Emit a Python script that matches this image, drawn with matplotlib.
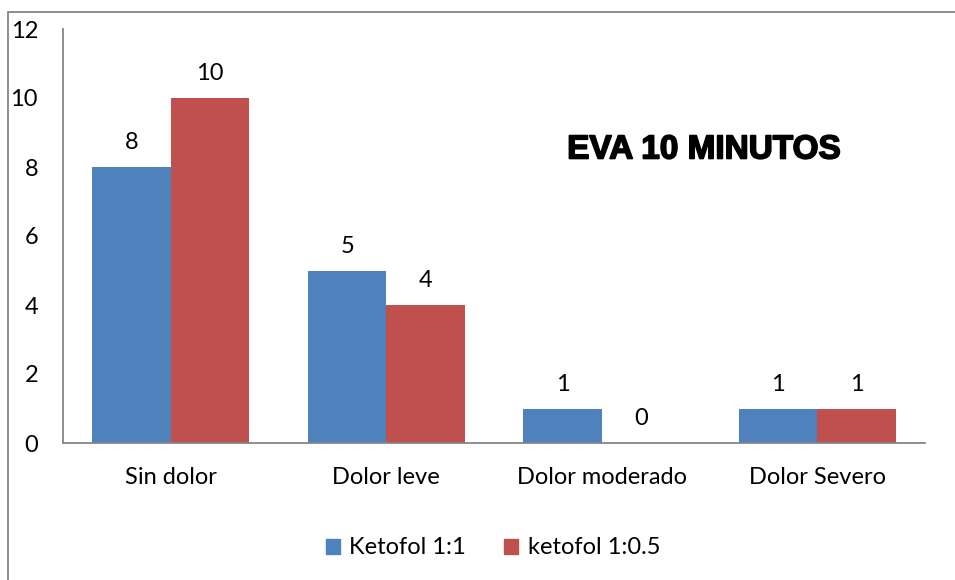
import matplotlib
matplotlib.use("Agg")
import matplotlib.pyplot as plt
from matplotlib.patches import Rectangle, Patch
import matplotlib.patheffects as pe
import numpy as np

categories = ["Sin dolor", "Dolor leve", "Dolor moderado", "Dolor Severo"]
series_names = ["Ketofol 1:1", "ketofol 1:0.5"]
ketofol_1_1 = [8, 5, 1, 1]
ketofol_1_05 = [10, 4, 0, 1]
yticks = [0, 2, 4, 6, 8, 10, 12]
title = "EVA 10 MINUTOS"

blue = "#4F81BD"
red = "#C0504D"
gray = "#868686"
font = "Lato"
fs = 17

W, H = 955, 580
fig = plt.figure(figsize=(W / 100, H / 100), dpi=100)
fig.patches.append(Rectangle((8 / W, -0.1), 1.2, 1 - 12 / H + 0.1, transform=fig.transFigure,
                             fill=False, edgecolor=gray, linewidth=1.3))

ax = fig.add_axes([63 / W, 1 - 443 / H, (925 - 63) / W, (443 - 29) / H])
x = np.arange(len(categories))
w = 0.3636
b1 = ax.bar(x - w / 2, ketofol_1_1, w, color=blue, label=series_names[0])
b2 = ax.bar(x + w / 2, ketofol_1_05, w, color=red, label=series_names[1])
for bars, vals in ((b1, ketofol_1_1), (b2, ketofol_1_05)):
    for r, v in zip(bars, vals):
        ax.annotate(str(v), (r.get_x() + r.get_width() / 2, v), xytext=(0, 10),
                    textcoords="offset points", ha="center", va="bottom",
                    fontsize=fs, family=font, color="black")

ax.set_xlim(-0.5, len(categories) - 0.5)
ax.set_ylim(0, 12)
ax.set_yticks(yticks)
ax.set_yticklabels([str(t) for t in yticks], family=font, fontsize=fs)
ax.set_xticks(x)
ax.set_xticklabels(categories, family=font, fontsize=fs)
ax.tick_params(axis="y", length=0, pad=18)
ax.tick_params(axis="x", length=0, pad=17)
for s in ("top", "right"):
    ax.spines[s].set_visible(False)
for s in ("left", "bottom"):
    ax.spines[s].set_color(gray)
    ax.spines[s].set_linewidth(1.3)

fig.text(704 / W, 1 - 150 / H, title, ha="center", va="center",
         fontsize=24, fontweight="heavy", family="Liberation Sans",
         path_effects=[pe.withStroke(linewidth=1.2, foreground="black")])

handles = [Patch(color=blue), Patch(color=red)]
fig.legend(handles, series_names, loc="center", bbox_to_anchor=(493 / W, 1 - 548 / H),
           ncol=2, frameon=False, prop={"family": font, "size": fs},
           handlelength=0.6, handleheight=0.6, handletextpad=0.4, columnspacing=1.6)

fig.savefig("out.png", dpi=100)
